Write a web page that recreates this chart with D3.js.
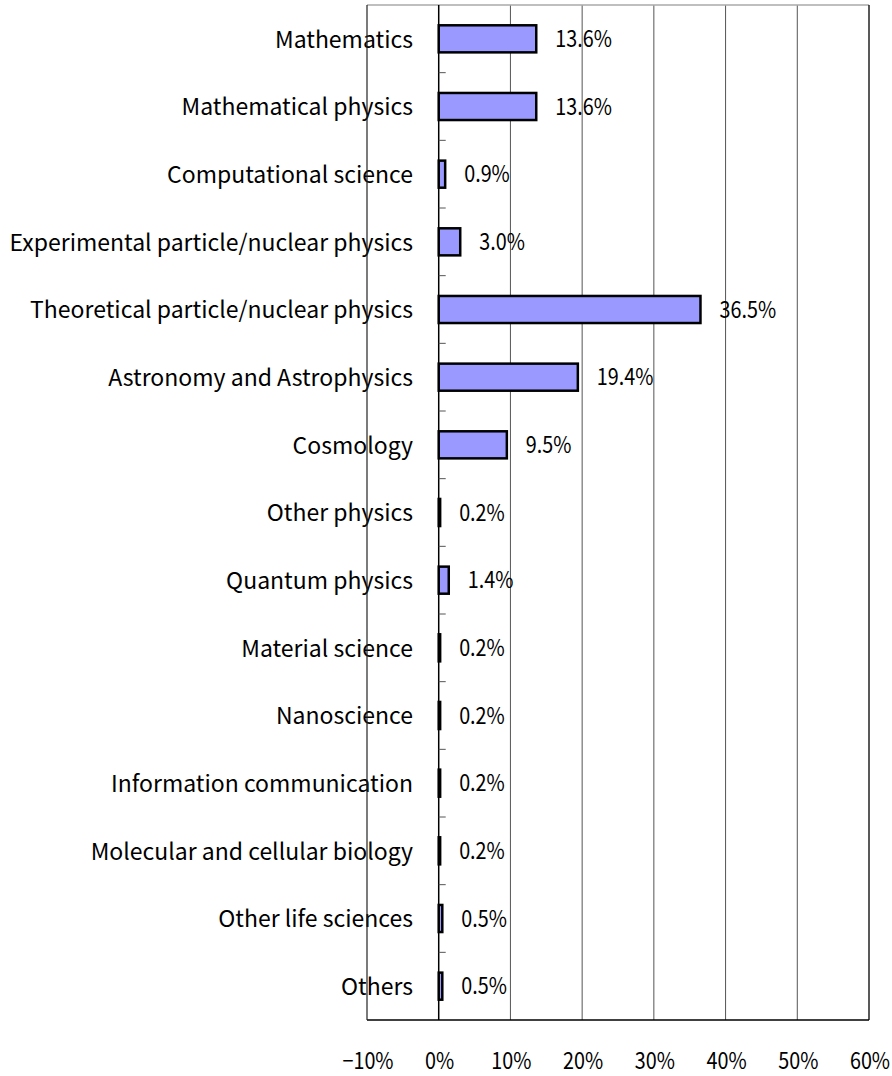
<!DOCTYPE html>
<html>
<head>
<meta charset="utf-8">
<script src="https://cdn.jsdelivr.net/npm/d3@7"></script>
<style>
  body { margin: 0; background: #fff; }
  text { font-family: "Noto Sans CJK JP", sans-serif; }
</style>
</head>
<body>
<div id="chart"></div>
<script>
const categories = [
  "Mathematics", "Mathematical physics", "Computational science",
  "Experimental particle/nuclear physics", "Theoretical particle/nuclear physics",
  "Astronomy and Astrophysics", "Cosmology", "Other physics", "Quantum physics",
  "Material science", "Nanoscience ", "Information communication",
  "Molecular and cellular biology", "Other life sciences", "Others"
];
const shares = [13.6, 13.6, 0.9, 3.0, 36.5, 19.4, 9.5, 0.2, 1.4, 0.2, 0.2, 0.2, 0.2, 0.5, 0.5];
const xTicks = [-10, 0, 10, 20, 30, 40, 50, 60];

const width = 892, height = 1076;
const plotLeft = 367, plotRight = 869, plotTop = 5, plotBottom = 1020;

const svg = d3.select("#chart").append("svg")
  .attr("width", width)
  .attr("height", height);

const x = d3.scaleLinear().domain([-10, 60]).range([plotLeft, plotRight]);
const y = d3.scaleBand().domain(categories).range([plotTop, plotBottom]).paddingInner(0.6).paddingOuter(0.3);
const band = d3.scaleBand().domain(categories).range([plotTop, plotBottom]);
const mid = d => band(d) + band.bandwidth() / 2;

// gridlines
svg.append("g")
  .selectAll("line")
  .data(xTicks.filter(d => d > -10 && d < 60 && d !== 0))
  .enter().append("line")
  .attr("x1", d => x(d)).attr("x2", d => x(d))
  .attr("y1", plotTop).attr("y2", plotBottom)
  .attr("stroke", "#555").attr("stroke-width", 1);

// frame
svg.append("line").attr("x1", plotLeft).attr("x2", plotRight).attr("y1", plotTop).attr("y2", plotTop)
  .attr("stroke", "#aaa").attr("stroke-width", 1.5);
svg.append("line").attr("x1", plotRight).attr("x2", plotRight).attr("y1", plotTop).attr("y2", plotBottom)
  .attr("stroke", "#222").attr("stroke-width", 1.5);
svg.append("line").attr("x1", plotLeft).attr("x2", plotRight).attr("y1", plotBottom).attr("y2", plotBottom)
  .attr("stroke", "#000").attr("stroke-width", 1.5);

// category labels
svg.append("g")
  .selectAll("text")
  .data(categories)
  .enter().append("text")
  .attr("x", 413)
  .attr("y", mid)
  .attr("dy", "0.38em")
  .attr("text-anchor", "end")
  .attr("font-size", 23)
  .attr("fill", "#000")
  .text(d => d);

// left frame line drawn over labels
svg.append("line").attr("x1", plotLeft).attr("x2", plotLeft).attr("y1", plotTop).attr("y2", plotBottom)
  .attr("stroke", "#222").attr("stroke-width", 1.2);

// zero axis with ticks at band boundaries
svg.append("line").attr("x1", x(0)).attr("x2", x(0)).attr("y1", plotTop).attr("y2", plotBottom)
  .attr("stroke", "#000").attr("stroke-width", 1.5);
svg.append("g")
  .selectAll("line")
  .data(categories.slice(1))
  .enter().append("line")
  .attr("x1", x(0)).attr("x2", x(0) + 7)
  .attr("y1", d => band(d)).attr("y2", d => band(d))
  .attr("stroke", "#555").attr("stroke-width", 1);

// bars
svg.append("g")
  .selectAll("rect")
  .data(categories)
  .enter().append("rect")
  .attr("x", x(0))
  .attr("y", d => y(d))
  .attr("width", (d, i) => x(shares[i]) - x(0))
  .attr("height", y.bandwidth())
  .attr("fill", "#9999ff")
  .attr("stroke", "#000")
  .attr("stroke-width", 2.5);

// value labels (narrow digits)
svg.append("g")
  .selectAll("text")
  .data(categories)
  .enter().append("text")
  .attr("transform", (d, i) => `translate(${x(shares[i]) + 19},${mid(d)}) scale(0.86,1)`)
  .attr("dy", "0.36em")
  .attr("font-size", 23)
  .attr("fill", "#000")
  .text((d, i) => shares[i].toFixed(1) + "%");

// x tick labels
svg.append("g")
  .selectAll("text")
  .data(xTicks)
  .enter().append("text")
  .attr("transform", d => `translate(${x(d) + 1},1069) scale(0.86,1)`)
  .attr("text-anchor", "middle")
  .attr("font-size", 23)
  .attr("fill", "#000")
  .text(d => (d < 0 ? "\u2212" + Math.abs(d) : d) + "%");
</script>
</body>
</html>
